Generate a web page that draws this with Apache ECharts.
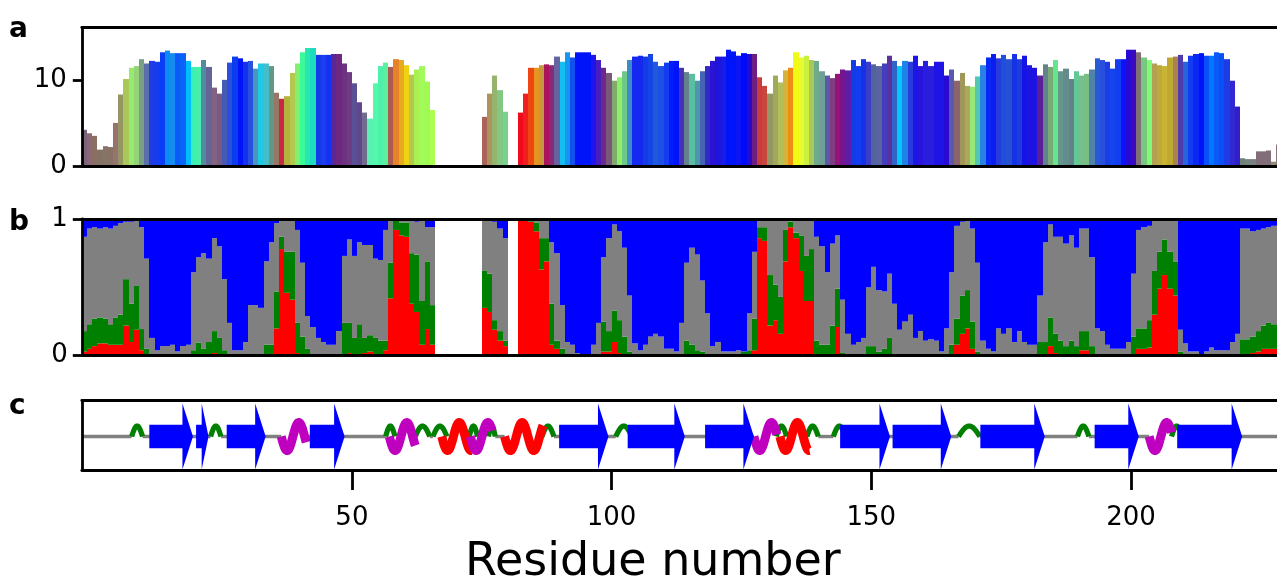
<!DOCTYPE html>
<html><head><meta charset="utf-8">
<script src="https://cdn.jsdelivr.net/npm/echarts@6/dist/echarts.min.js"></script>
<style>html,body{margin:0;padding:0;background:#fff}#c{width:1277px;height:584px}</style>
</head><body><div id="c"></div>
<script>
// residue numbers -2 .. 228
const firstResidue = -2, lastResidue = 228;
const residues = [];
for (let r = firstResidue; r <= lastResidue; r++) residues.push(r);

// panel a: bar heights (null = missing residue)
const heightA = [
/* -2 */ 4.2,3.8,3.5,1.9,2.3,2.2,5.0,8.3,10.1,11.4,11.6,12.4,
/* 10 */ 11.9,12.2,12.1,13.2,13.4,13.1,13.1,13.1,12.2,11.5,
/* 20 */ 11.5,12.3,11.5,9.1,8.4,10.0,12.0,12.7,12.5,12.1,
/* 30 */ 12.2,11.3,11.9,11.9,11.6,8.5,7.8,8.1,10.8,11.9,
/* 40 */ 13.2,13.7,13.7,12.9,12.9,12.9,13.0,13.0,11.9,10.9,
/* 50 */ 9.6,7.4,6.2,5.5,9.6,11.6,12.0,11.5,12.4,12.3,
/* 60 */ 11.7,10.6,11.2,11.6,9.8,6.5,null,null,null,null,
/* 70 */ null,null,null,null,null,5.7,8.4,10.5,8.8,6.3,
/* 80 */ null,null,6.2,8.4,11.4,11.4,11.7,11.8,11.7,12.7,
/* 90 */ 12.1,13.2,12.6,13.2,13.2,13.2,12.9,12.3,11.4,10.8,
/*100 */ 9.9,10.3,11.0,12.3,12.7,12.8,12.7,13.0,12.1,11.6,
/*110 */ 12.0,12.2,12.2,11.4,10.9,10.7,9.9,11.0,11.6,12.2,
/*120 */ 12.7,12.7,13.5,13.3,12.8,13.1,13.0,13.0,10.3,9.3,
/*130 */ 8.4,10.5,9.7,11.1,11.4,13.2,12.6,12.8,12.3,12.2,
/*140 */ 11.0,10.5,10.2,10.7,11.2,11.1,12.3,11.6,12.4,12.1,
/*150 */ 11.8,11.6,11.9,12.8,12.2,11.6,12.2,12.1,12.8,11.6,
/*160 */ 12.2,11.6,12.1,12.1,10.5,11.2,9.9,10.8,9.3,9.2,
/*170 */ 10.4,11.7,12.6,13.0,12.5,12.9,12.4,13.0,12.4,12.8,
/*180 */ 11.7,11.4,10.5,11.8,11.5,12.3,11.0,11.3,10.1,11.0,
/*190 */ 10.5,10.7,11.2,12.5,12.3,12.1,11.3,12.4,12.4,13.5,
/*200 */ 13.5,13.2,12.6,12.3,11.9,11.7,11.6,12.6,12.7,12.9,
/*210 */ 12.1,12.8,13.0,13.1,12.8,12.8,13.2,13.1,12.4,9.9,
/*220 */ 6.9,0.9,0.8,0.8,1.7,1.7,1.8,0.5,2.5
];

// panel a: bar colours
const colorA = [
/* -2 */ '#7d647d','#8c6973','#8c6e64','#827364','#877369','#877364','#96736e','#969664','#aac85a','#96eb6e','#96d278','#78a082',
/* 10 */ '#5a6eaa','#1e3ce6','#143cf0','#0a3cf5','#0a8cf5','#148cf0','#0a5afa','#0a64fa','#00befa','#3cf0b4',
/* 20 */ '#46f0aa','#508ca0','#646496','#826482','#785a82','#465ab4','#2850dc','#0a3cf0','#0014fa','#1432f0',
/* 30 */ '#2850dc','#4696be','#1ec8e6','#46bec8','#64968c','#967864','#c82846','#b4b43c','#b4c850','#82f06e',
/* 40 */ '#3cfa96','#28e6b4','#1edcbe','#143ce6','#1e3cf0','#1432f0','#5a2896','#6e2882','#6e3282','#6e3c82',
/* 50 */ '#5a5096','#64468c','#6e6e8c','#5af0b4','#50faaa','#50f0aa','#5af0a0','#aa5a50','#e68228','#e6aa1e',
/* 60 */ '#f0d214','#b4c850','#aaf050','#a0fa5a','#a0fa50','#aaff50',null,null,null,null,
/* 70 */ null,null,null,null,null,'#aa645a','#aa965a','#96b46e','#82c882','#78d28c',
/* 80 */ null,null,'#f00a1e','#f01e1e','#f04614','#e6961e','#c8963c','#aa145a','#8c2878','#6464a0',
/* 90 */ '#14bef0','#1496f0','#1450f0','#0014fa','#0014fa','#0014fa','#1e14f0','#461ebe','#6e288c','#785a78',
/*100 */ '#82aa6e','#8cf064','#6ec88c','#3c8cc8','#1428f0','#1428f0','#143ce6','#1446e6','#1e5adc','#1e50e6',
/*110 */ '#143cf0','#001efa','#0014fa','#4632b4','#64828c','#5abea0','#5096aa','#4664b4','#3228c8','#2814d2',
/*120 */ '#1e14dc','#141ee6','#0014fa','#0014fa','#0a14f5','#000afa','#280ac8','#6e1e82','#c83c3c','#c8463c',
/*130 */ '#969664','#a0aa5a','#b4be5a','#d2b43c','#f08c14','#f0fa14','#e6fa32','#c8f03c','#aac85a','#6eaa8c',
/*140 */ '#6ea096','#5a5aaa','#823c82','#961478','#78148c','#5a1eaa','#143ce6','#143cf0','#1432e6','#3c3cc8',
/*150 */ '#5064a0','#5a64a0','#463cbe','#5a32a0','#3264c8','#00c8fa','#1e82e6','#283cdc','#1e14e6','#2814dc',
/*160 */ '#281edc','#281edc','#1e14e6','#1e14e6','#280ad2','#5a5aaa','#8c646e','#a0965a','#aaaa5a','#96e678',
/*170 */ '#50c8b4','#2882e6','#0a28f5','#0a1ef0','#283cdc','#1e50dc','#2850d2','#1432e6','#1e3cdc','#1414e6',
/*180 */ '#1e14e1','#1e14e1','#5a1e96','#64828c','#78aa78','#64e68c','#64968c','#648c8c','#64828c','#64c896',
/*190 */ '#78be8c','#78be82','#5082aa','#285ad2','#2850dc','#1e3ce6','#1446f0','#143cf0','#0a14fa','#280ad2',
/*200 */ '#3c0abe','#826e78','#78c882','#82fa78','#b4a050','#beaa3c','#c8b432','#beaa32','#aa8250','#503caa',
/*210 */ '#2864dc','#143cf0','#0a28f5','#0014fa','#0a50fa','#0078fa','#0a5afa','#0a50f5','#1e3ce6','#3228d2',
/*220 */ '#321ec8','#6e8278','#788282','#788282','#826e78','#826e78','#826e78','#8c8c6e','#8c7878'
];

// panel b: cumulative tops (red, +green, +gray); blue fills to 1
const redTop = [
/* -2 */ 0.03,0.05,0.07,0.09,0.09,0.08,0.08,0.08,0.22,0.10,0.19,0.04,
/* 10 */ 0,0,0,0,0,0,0,0,0,0,
/* 20 */ 0.01,0,0,0.02,0,0,0,0,0,0,
/* 30 */ 0,0,0,0,0,0.20,0.78,0.46,0.41,0.02,
/* 40 */ 0,0,0,0,0,0,0,0,0.01,0.02,
/* 50 */ 0,0.01,0.02,0.03,0,0,0.04,0.42,0.92,0.88,
/* 60 */ 0.87,0.38,0.32,0.08,0.195,0.08,null,null,null,null,
/* 70 */ null,null,null,null,null,0.35,0.32,0.19,0.11,0.07,
/* 80 */ null,null,0.99,0.99,0.98,0.91,0.63,0.69,0.08,0.05,
/* 90 */ 0,0,0,0,0,0,0,0,0.03,0.03,
/*100 */ 0.10,0.02,0.01,0,0,0,0,0,0,0,
/*110 */ 0,0,0,0,0.01,0.005,0,0,0,0,
/*120 */ 0,0,0,0,0,0,0,0.04,0.86,0.84,
/*130 */ 0.22,0.26,0.16,0.69,0.94,0.86,0.62,0.40,0.40,0,
/*140 */ 0,0,0.005,0.21,0,0,0,0,0,0,
/*150 */ 0,0,0,0,0,0,0,0,0,0,
/*160 */ 0,0,0,0,0,0,0.08,0.16,0.20,0.05,
/*170 */ 0,0,0,0,0,0,0,0,0,0,
/*180 */ 0,0,0,0,0.07,0.02,0.01,0,0.005,0.01,
/*190 */ 0.04,0.04,0,0,0,0,0,0,0,0,
/*200 */ 0,0.05,0.05,0.06,0.30,0.49,0.59,0.49,0.44,0,
/*210 */ 0,0,0,0,0,0,0,0,0,0,
/*220 */ 0,0.01,0.01,0.02,0.03,0.05,0.05,0.05,0.05
];
const greenTop = [
/* -2 */ 0.18,0.23,0.27,0.28,0.27,0.23,0.28,0.30,0.56,0.38,0.51,0.195,
/* 10 */ 0.05,0,0,0,0,0,0,0,0,0.04,
/* 20 */ 0.095,0.05,0.10,0.18,0.13,0.04,0,0,0,0,
/* 30 */ 0,0,0.01,0.08,0.08,0.47,0.87,0.76,0.76,0.24,
/* 40 */ 0.14,0.05,0,0,0,0,0,0,0.24,0.24,
/* 50 */ 0.13,0.23,0.13,0.15,0.13,0.11,0.11,0.68,0.99,0.975,
/* 60 */ 0.975,0.75,0.74,0.40,0.69,0.37,null,null,null,null,
/* 70 */ null,null,null,null,null,0.62,0.60,0.26,0.18,0.11,
/* 80 */ null,null,1.0,1.0,0.99,0.975,0.86,0.86,0.38,0.11,
/* 90 */ 0.05,0,0,0,0,0,0,0.01,0.25,0.18,
/*100 */ 0.33,0.26,0.14,0.03,0,0,0,0,0,0,
/*110 */ 0,0,0,0,0.11,0.08,0.04,0.03,0.01,0,
/*120 */ 0,0,0,0,0,0.03,0.04,0.27,0.94,0.94,
/*130 */ 0.59,0.52,0.43,0.92,0.98,0.90,0.88,0.73,0.78,0.11,
/*140 */ 0.08,0.08,0.22,0.49,0.02,0,0,0,0,0.07,
/*150 */ 0.07,0.03,0.05,0.13,0,0,0,0,0,0.01,
/*160 */ 0,0,0,0,0.01,0.08,0.27,0.44,0.48,0.25,
/*170 */ 0.03,0,0,0,0,0,0,0,0,0,
/*180 */ 0,0,0.10,0.10,0.28,0.16,0.11,0.07,0.11,0.07,
/*190 */ 0.18,0.18,0.07,0,0,0,0,0,0,0,
/*200 */ 0.14,0.20,0.20,0.26,0.62,0.76,0.85,0.76,0.69,0.03,
/*210 */ 0,0,0,0,0,0,0,0,0,0,
/*220 */ 0,0.12,0.12,0.14,0.18,0.22,0.24,0.23,0.23
];
const grayTop = [
/* -2 */ 0.87,0.93,0.94,0.93,0.94,0.93,0.95,0.97,0.98,0.98,0.985,0.94,
/* 10 */ 0.71,0.13,0.04,0.07,0.07,0.08,0.03,0.07,0.08,0.61,
/* 20 */ 0.72,0.75,0.71,0.86,0.80,0.56,0.24,0.04,0.04,0.10,
/* 30 */ 0.37,0.37,0.35,0.69,0.83,0.97,0.99,0.99,0.99,0.92,
/* 40 */ 0.68,0.29,0.21,0.13,0.10,0.08,0.08,0.18,0.73,0.85,
/* 50 */ 0.73,0.83,0.81,0.81,0.71,0.70,0.92,0.99,1.0,1.0,
/* 60 */ 1.0,1.0,0.98,1.0,0.94,0.94,null,null,null,null,
/* 70 */ null,null,null,null,null,0.99,0.99,0.98,0.93,0.86,
/* 80 */ null,null,1.0,1.0,1.0,0.99,0.99,0.99,0.83,0.75,
/* 90 */ 0.37,0.10,0.08,0.02,0.01,0.01,0.08,0.24,0.72,0.86,
/*100 */ 0.96,0.91,0.79,0.44,0.09,0.04,0.08,0.14,0.16,0.14,
/*110 */ 0.05,0.05,0.03,0.24,0.68,0.79,0.74,0.55,0.31,0.07,
/*120 */ 0.10,0.03,0.03,0.03,0.04,0.03,0.31,0.76,1.0,1.0,
/*130 */ 0.99,0.99,0.99,0.99,1.0,1.0,1.0,1.0,1.0,0.87,
/*140 */ 0.80,0.61,0.82,0.88,0.41,0.16,0.08,0.10,0.13,0.50,
/*150 */ 0.65,0.48,0.47,0.60,0.38,0.19,0.25,0.30,0.13,0.18,
/*160 */ 0.11,0.12,0.11,0.03,0.20,0.61,0.95,0.98,0.985,0.93,
/*170 */ 0.68,0.11,0.05,0.03,0.20,0.16,0.20,0.10,0.18,0.10,
/*180 */ 0.08,0.08,0.44,0.83,0.96,0.87,0.87,0.82,0.88,0.79,
/*190 */ 0.93,0.93,0.72,0.20,0.18,0.08,0.05,0.05,0.05,0.10,
/*200 */ 0.60,0.92,0.94,0.95,0.99,0.99,0.99,0.99,0.985,0.19,
/*210 */ 0.09,0.03,0.03,0,0.03,0.06,0.04,0.04,0.04,0.10,
/*220 */ 0.16,0.93,0.93,0.91,0.92,0.93,0.94,0.95,0.95
];

// panel c: secondary structure elements (residue coordinates)
const strandStart = [11.0, 20.0, 25.9, 41.9, 89.9, 103.1, 118.0, 144.0, 154.1, 171.0, 193.0, 208.9];
const strandEnd   = [19.4, 22.4, 33.4, 48.6, 99.4, 114.1, 127.4, 153.6, 165.4, 183.4, 201.5, 221.4];
const helixStart = [36.4, 57.2, 67.3, 72.8, 79.4, 127.4, 132.4, 203.5];
const helixEnd   = [41.2, 62.2, 73.0, 77.0, 86.8, 131.8, 138.1, 207.8];
const helixKind  = ['G', 'G', 'H', 'G', 'H', 'G', 'H', 'G'];
const turnStart = [7.6, 22.8, 56.5, 62.2, 65.6, 72.6, 76.3, 86.6, 100.8, 131.7, 137.6, 142.7, 166.8, 189.7, 207.8];
const turnEnd   = [9.7, 24.8, 58.3, 65.0, 68.3, 74.2, 77.6, 88.9, 103.9, 133.7, 139.8, 145.0, 170.9, 191.9, 209.8];

const xTicks = [50, 100, 150, 200];
const yTicksA = [0, 10];
const yTicksB = [0, 1];

// ---------- layout ----------
const PX_PER_RES = 5.194;
const GL = 81.8, GW = 1277 - GL;
const X_MIN = -2, X_MAX = X_MIN + GW / PX_PER_RES;
const FONT = '"DejaVu Sans", Verdana, sans-serif';

const dataA = [];
residues.forEach((r, i) => { if (heightA[i] != null) dataA.push({ value: [r, heightA[i]], itemStyle: { color: colorA[i] } }); });
const dataB = [];
residues.forEach((r, i) => { if (grayTop[i] != null) dataB.push([r, redTop[i], greenTop[i], grayTop[i]]); });

// coil segments = gaps between helices/turns
const ssIntervals = [];
helixStart.forEach((s, i) => ssIntervals.push([s, helixEnd[i]]));
turnStart.forEach((s, i) => ssIntervals.push([s, turnEnd[i]]));
ssIntervals.sort((a, b) => a[0] - b[0]);
const coil = [];
let cur = X_MIN;
ssIntervals.forEach(([s, e]) => { if (s > cur) coil.push([cur, 0, s]); cur = Math.max(cur, e); });
coil.push([cur, 0, X_MAX + 2]);

function colX(api, r) {
  return [Math.round(api.coord([r, 0])[0]), Math.round(api.coord([r + 1, 0])[0])];
}

const axisLine = { show: true, onZero: false, lineStyle: { color: '#000', width: 2.8 } };
function xAxisFor(grid, extra) {
  return Object.assign({
    type: 'value', gridIndex: grid, min: X_MIN, max: X_MAX, z: 10,
    axisLine: axisLine, splitLine: { show: false }, axisTick: { show: false }, axisLabel: { show: false }
  }, extra || {});
}

const option = {
  animation: false,
  backgroundColor: '#fff',
  textStyle: { fontFamily: FONT },
  grid: [
    { left: GL, top: 27.3, width: GW, height: 138.7 },
    { left: GL, top: 219, width: GW, height: 136.7 },
    { left: GL, top: 400.7, width: GW, height: 69.3 }
  ],
  xAxis: [
    xAxisFor(0), xAxisFor(1),
    xAxisFor(2, {
      axisTick: { show: true, customValues: xTicks, length: 20, lineStyle: { color: '#000', width: 2.8 } },
      axisLabel: { show: true, customValues: xTicks, margin: 35, fontSize: 26, color: '#000', fontFamily: FONT }
    }),
    xAxisFor(0, { position: 'top' }), xAxisFor(1, { position: 'top' }), xAxisFor(2, { position: 'top' })
  ],
  yAxis: [
    { type: 'value', gridIndex: 0, min: 0, max: 16.1, z: 10, axisLine: axisLine, splitLine: { show: false },
      axisTick: { show: true, customValues: yTicksA, length: 9, lineStyle: { color: '#000', width: 2.8 } },
      axisLabel: { customValues: yTicksA, margin: 15, fontSize: 26, color: '#000', fontFamily: FONT } },
    { type: 'value', gridIndex: 1, min: 0, max: 1, z: 10, axisLine: axisLine, splitLine: { show: false },
      axisTick: { show: true, customValues: yTicksB, length: 9, lineStyle: { color: '#000', width: 2.8 } },
      axisLabel: { customValues: yTicksB, margin: 14, fontSize: 26, color: '#000', fontFamily: FONT } },
    { type: 'value', gridIndex: 2, min: -1, max: 1.07, z: 10, axisLine: axisLine, splitLine: { show: false },
      axisTick: { show: false }, axisLabel: { show: false } }
  ],
  series: [
    // panel a: one bar per residue
    { type: 'custom', xAxisIndex: 0, yAxisIndex: 0, data: dataA,
      renderItem(p, api) {
        const r = api.value(0), v = api.value(1), xs = colX(api, r);
        const y0 = api.coord([r, 0])[1], y1 = api.coord([r, v])[1];
        return { type: 'rect', shape: { x: xs[0], y: y1, width: xs[1] - xs[0], height: y0 - y1 }, style: { fill: api.visual('color') } };
      } },
    // panel b: stacked fractions red / green / gray / blue
    { type: 'custom', xAxisIndex: 1, yAxisIndex: 1, data: dataB,
      renderItem(p, api) {
        const r = api.value(0), xs = colX(api, r);
        const tops = [0, api.value(1), api.value(2), api.value(3), 1];
        const cols = ['#ff0000', '#008000', '#808080', '#0000ff'];
        const children = [];
        for (let k = 0; k < 4; k++) {
          const ya = api.coord([r, tops[k]])[1], yb = api.coord([r, tops[k + 1]])[1];
          if (ya - yb > 0.01) children.push({ type: 'rect', shape: { x: xs[0], y: yb, width: xs[1] - xs[0], height: ya - yb }, style: { fill: cols[k] } });
        }
        return { type: 'group', children: children };
      } },
    // coil line
    { type: 'custom', xAxisIndex: 2, yAxisIndex: 2, data: coil,
      renderItem(p, api) {
        const a = api.coord([api.value(0), 0]), b = api.coord([api.value(2), 0]);
        return { type: 'line', shape: { x1: a[0], y1: a[1], x2: b[0], y2: b[1] }, style: { stroke: '#808080', lineWidth: 3.4 } };
      } },
    // turns
    { type: 'custom', xAxisIndex: 2, yAxisIndex: 2,
      data: turnStart.map((s, i) => [s, 0, turnEnd[i]]),
      renderItem(p, api) {
        const s = api.value(0), e = api.value(2), pts = [];
        for (let k = 0; k <= 30; k++) {
          const t = s + (e - s) * k / 30, c = api.coord([t, 0]);
          pts.push([c[0], c[1] - 10.5 * Math.sin(Math.PI * k / 30)]);
        }
        return { type: 'polyline', shape: { points: pts }, style: { stroke: '#008000', lineWidth: 5.2, fill: null } };
      } },
    // helices
    { type: 'custom', xAxisIndex: 2, yAxisIndex: 2,
      data: helixStart.map((s, i) => [s, 0, helixEnd[i], helixKind[i] === 'H' ? 1 : 0]),
      renderItem(p, api) {
        const s = api.value(0), e = api.value(2), isH = api.value(3) === 1, pts = [];
        const N = 80;
        for (let k = 0; k <= N; k++) {
          const t = s + (e - s) * k / N, c = api.coord([t, 0]);
          pts.push([c[0], c[1] + 14 * Math.sin(2 * Math.PI * (t - s) / 4.5)]);
        }
        return { type: 'polyline', shape: { points: pts }, style: { stroke: isH ? '#ff0000' : '#bf00bf', lineWidth: 9, fill: null, lineCap: 'butt', lineJoin: 'round' } };
      } },
    // strands
    { type: 'custom', xAxisIndex: 2, yAxisIndex: 2,
      data: strandStart.map((s, i) => [s, 0, strandEnd[i]]),
      renderItem(p, api) {
        const a = api.coord([api.value(0), 0]), b = api.coord([api.value(2), 0]);
        const cy = a[1], head = Math.min(10.5, (b[0] - a[0]) * 0.55), xh = b[0] - head;
        const bh = 11.7, hh = 33;
        return { type: 'polygon', shape: { points: [[a[0], cy - bh], [xh, cy - bh], [xh, cy - hh], [b[0], cy], [xh, cy + hh], [xh, cy + bh], [a[0], cy + bh]] },
          style: { fill: '#0000ff' } };
      } }
  ],
  graphic: [
    { type: 'text', left: 9, top: 16, style: { text: 'a', font: 'bold 28px ' + FONT, fill: '#000' } },
    { type: 'text', left: 9, top: 209, style: { text: 'b', font: 'bold 28px ' + FONT, fill: '#000' } },
    { type: 'text', left: 9, top: 393, style: { text: 'c', font: 'bold 28px ' + FONT, fill: '#000' } },
    { type: 'text', left: 465, top: 540, style: { text: 'Residue number', font: '46px ' + FONT, fill: '#000' } }
  ]
};

const chart = echarts.init(document.getElementById('c'), null, { renderer: 'canvas', width: 1277, height: 584 });
chart.setOption(option);
</script>
</body></html>
